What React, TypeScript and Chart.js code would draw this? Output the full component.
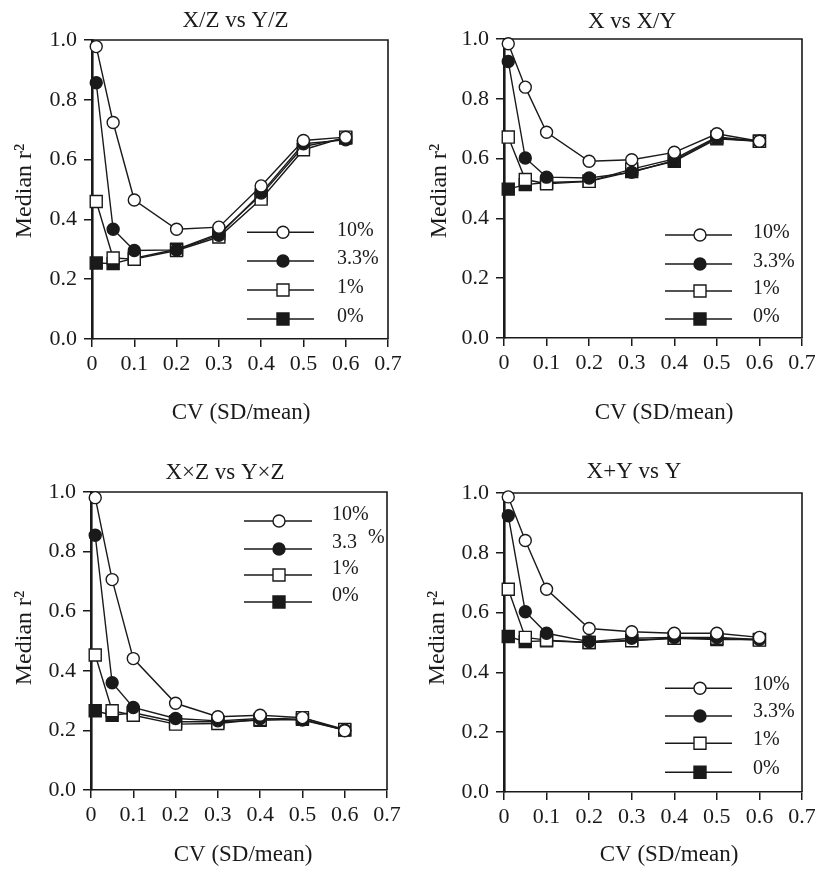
import React, { useEffect, useRef } from "react";
import { Chart, registerables } from "chart.js";

Chart.register(...registerables);

// ---------- data ----------
const cvValues = [0.01, 0.05, 0.1, 0.2, 0.3, 0.4, 0.5, 0.6];
const xTickValues = [0, 0.1, 0.2, 0.3, 0.4, 0.5, 0.6, 0.7];
const yTickValues = [0, 0.2, 0.4, 0.6, 0.8, 1.0];
const errorLabels = ["10%", "3.3%", "1%", "0%"];
const xAxisTitle = "CV (SD/mean)";
const yAxisTitle = "Median r\u00B2";

const titleXZvsYZ = "X/Z vs Y/Z";
const titleXvsXY = "X vs X/Y";
const titleXZprodYZprod = "X\u00D7Z vs Y\u00D7Z";
const titleXplusYvsY = "X+Y vs Y";

// X/Z vs Y/Z
const ratio10 = [0.978, 0.724, 0.465, 0.367, 0.374, 0.512, 0.664, 0.675];
const ratio33 = [0.857, 0.367, 0.296, 0.298, 0.347, 0.488, 0.653, 0.666];
const ratio1 = [0.46, 0.271, 0.267, 0.296, 0.341, 0.468, 0.633, 0.675];
const ratio0 = [0.254, 0.252, 0.27, 0.3, 0.352, 0.482, 0.644, 0.672];

// X vs X/Y
const shared10 = [0.984, 0.839, 0.688, 0.591, 0.596, 0.621, 0.683, 0.658];
const shared33 = [0.925, 0.602, 0.538, 0.535, 0.554, 0.594, 0.669, 0.658];
const shared1 = [0.672, 0.53, 0.516, 0.524, 0.565, 0.599, 0.672, 0.658];
const shared0 = [0.498, 0.513, 0.52, 0.524, 0.557, 0.591, 0.666, 0.658];

// X×Z vs Y×Z
const product10 = [0.981, 0.706, 0.441, 0.291, 0.246, 0.251, 0.243, 0.199];
const product33 = [0.855, 0.36, 0.277, 0.24, 0.232, 0.24, 0.235, 0.201];
const product1 = [0.453, 0.266, 0.251, 0.221, 0.223, 0.237, 0.243, 0.203];
const product0 = [0.266, 0.251, 0.259, 0.229, 0.229, 0.234, 0.237, 0.201];

// X+Y vs Y
const sum10 = [0.987, 0.841, 0.678, 0.547, 0.536, 0.531, 0.531, 0.517];
const sum33 = [0.924, 0.603, 0.531, 0.503, 0.514, 0.517, 0.517, 0.51];
const sum1 = [0.678, 0.517, 0.508, 0.5, 0.506, 0.514, 0.514, 0.508];
const sum0 = [0.52, 0.503, 0.506, 0.5, 0.508, 0.514, 0.51, 0.51];

// ---------- styles / layout ----------
const FONT = '"Liberation Serif", "Times New Roman", serif';
const INK = "#1a1a1a";

const markerStyles = [
  { shape: "circle", filled: false },
  { shape: "circle", filled: true },
  { shape: "rect", filled: false },
  { shape: "rect", filled: true },
];

type Layout = {
  left: number; top: number; w: number; h: number;
  area: { l: number; t: number; r: number; b: number };
  title: [number, number];
  xTitle: [number, number];
  yTitle: [number, number];
  legend: { x1: number; x2: number; mx: number; tx: number; rows: number[]; dy: number; splitPercent?: boolean };
};

const layouts: Layout[] = [
  {
    left: 0, top: 0, w: 407, h: 437,
    area: { l: 92, t: 40, r: 388, b: 339 },
    title: [235.5, 21], xTitle: [241, 413], yTitle: [25, 191],
    legend: { x1: 247, x2: 314, mx: 283, tx: 337, rows: [232.3, 261, 290, 319], dy: -2 },
  },
  {
    left: 407, top: 0, w: 430, h: 437,
    area: { l: 97, t: 39, r: 395, b: 338 },
    title: [225, 21.5], xTitle: [257, 413], yTitle: [33, 191],
    legend: { x1: 258, x2: 325, mx: 293, tx: 346, rows: [235, 264, 291, 319], dy: -2 },
  },
  {
    left: 0, top: 445, w: 407, h: 430,
    area: { l: 91, t: 47, r: 387, b: 345 },
    title: [225, 27.5], xTitle: [243, 410], yTitle: [25, 193],
    legend: { x1: 244, x2: 312, mx: 279, tx: 332, rows: [76, 104, 130, 157], dy: -6, splitPercent: true },
  },
  {
    left: 407, top: 445, w: 430, h: 430,
    area: { l: 97, t: 48, r: 395, b: 347 },
    title: [227, 27], xTitle: [262, 410], yTitle: [31, 193],
    legend: { x1: 258, x2: 325, mx: 293, tx: 346, rows: [243.3, 271, 298.3, 327.3], dy: -4 },
  },
];

const panels = [
  { title: titleXZvsYZ, series: [ratio10, ratio33, ratio1, ratio0] },
  { title: titleXvsXY, series: [shared10, shared33, shared1, shared0] },
  { title: titleXZprodYZprod, series: [product10, product33, product1, product0] },
  { title: titleXplusYvsY, series: [sum10, sum33, sum1, sum0] },
];

function drawMarker(ctx: CanvasRenderingContext2D, shape: string, filled: boolean, x: number, y: number) {
  ctx.save();
  ctx.beginPath();
  if (shape === "circle") ctx.arc(x, y, 6, 0, Math.PI * 2);
  else ctx.rect(x - 6, y - 6, 12, 12);
  ctx.fillStyle = filled ? INK : "#ffffff";
  ctx.fill();
  ctx.lineWidth = 1.4;
  ctx.strokeStyle = INK;
  ctx.stroke();
  ctx.restore();
}

function Panel({ index }: { index: number }) {
  const ref = useRef<HTMLCanvasElement>(null);
  const L = layouts[index];
  const P = panels[index];

  useEffect(() => {
    const canvas = ref.current!;
    const { area } = L;

    const framePlugin = {
      id: "frameText",
      beforeDatasetsDraw(chart: any) {
        const ctx = chart.ctx as CanvasRenderingContext2D;
        const ca = chart.chartArea;
        ctx.save();
        ctx.strokeStyle = INK;
        ctx.lineWidth = 1.6;
        ctx.beginPath();
        ctx.moveTo(ca.left, ca.top);
        ctx.lineTo(ca.right, ca.top);
        ctx.lineTo(ca.right, ca.bottom);
        ctx.stroke();
        ctx.restore();
      },
      afterDraw(chart: any) {
        const ctx = chart.ctx as CanvasRenderingContext2D;
        ctx.save();
        ctx.fillStyle = INK;
        ctx.textBaseline = "middle";
        ctx.textAlign = "center";
        ctx.font = `23px ${FONT}`;
        ctx.fillText(P.title, L.title[0], L.title[1]);
        ctx.fillText(xAxisTitle, L.xTitle[0], L.xTitle[1]);
        ctx.save();
        ctx.translate(L.yTitle[0], L.yTitle[1]);
        ctx.rotate(-Math.PI / 2);
        ctx.font = `24px ${FONT}`;
        ctx.fillText(yAxisTitle, 0, 0);
        ctx.restore();

        // legend
        const lg = L.legend;
        ctx.font = `20px ${FONT}`;
        ctx.textAlign = "left";
        errorLabels.forEach((lab, i) => {
          const y = lg.rows[i];
          ctx.strokeStyle = INK;
          ctx.lineWidth = 1.5;
          ctx.beginPath();
          ctx.moveTo(lg.x1, y);
          ctx.lineTo(lg.x2, y);
          ctx.stroke();
          drawMarker(ctx, markerStyles[i].shape, markerStyles[i].filled, lg.mx, y);
          ctx.fillStyle = INK;
          if (lg.splitPercent && lab === "3.3%") {
            ctx.fillText("3.3", lg.tx, y + lg.dy);
            ctx.fillText("%", lg.tx + 36, y + lg.dy - 5);
          } else {
            ctx.fillText(lab, lg.tx, y + lg.dy);
          }
        });
        ctx.restore();
      },
    };

    const datasets = P.series.map((vals, i) => {
      const st = markerStyles[i];
      return {
        label: errorLabels[i],
        data: cvValues.map((x, k) => ({ x, y: vals[k] })),
        borderColor: INK,
        borderWidth: 1.4,
        pointStyle: st.shape,
        pointRadius: st.shape === "rect" ? 8.5 : 6,
        pointBackgroundColor: st.filled ? INK : "#ffffff",
        pointBorderColor: INK,
        pointBorderWidth: 1.4,
        pointHoverRadius: st.shape === "rect" ? 8.5 : 6,
        fill: false,
        tension: 0,
        clip: false,
      };
    });

    const chart = new Chart(canvas, {
      type: "line",
      data: { datasets },
      options: {
        responsive: false,
        animation: false,
        devicePixelRatio: 1,
        events: [],
        layout: { padding: { left: 0, top: area.t, right: L.w - area.r, bottom: 0 } },
        plugins: { legend: { display: false }, tooltip: { enabled: false }, title: { display: false } },
        scales: {
          x: {
            type: "linear",
            position: "bottom",
            min: 0,
            max: 0.7,
            afterBuildTicks: (s: any) => { s.ticks = xTickValues.map((v) => ({ value: v })); },
            afterFit: (s: any) => { s.height = L.h - area.b; },
            ticks: {
              autoSkip: false,
              maxRotation: 0,
              padding: 4,
              color: INK,
              font: { family: FONT, size: 22 },
              callback: (v: any) => (Number(v) === 0 ? "0" : Number(v).toFixed(1)),
            },
            grid: { drawOnChartArea: false, drawTicks: true, tickLength: 8, color: INK, lineWidth: 1.5 },
            border: { display: true, color: INK, width: 1.6 },
          },
          y: {
            type: "linear",
            position: "left",
            min: 0,
            max: 1,
            afterBuildTicks: (s: any) => { s.ticks = yTickValues.map((v) => ({ value: v })); },
            afterFit: (s: any) => { s.width = area.l; },
            ticks: {
              padding: 7,
              color: INK,
              font: { family: FONT, size: 22 },
              callback: (v: any) => Number(v).toFixed(1),
            },
            grid: { drawOnChartArea: false, drawTicks: true, tickLength: 8, color: INK, lineWidth: 1.5 },
            border: { display: true, color: INK, width: 2.6 },
          },
        },
      },
      plugins: [framePlugin],
    } as any);

    return () => chart.destroy();
  }, [index]);

  return (
    <canvas
      ref={ref}
      width={L.w}
      height={L.h}
      style={{ position: "absolute", left: L.left, top: L.top, width: L.w, height: L.h, display: "block" }}
    />
  );
}

export default function App() {
  return (
    <div
      style={{
        position: "absolute",
        left: 0,
        top: 0,
        width: 815,
        height: 875,
        overflow: "hidden",
        background: "#ffffff",
      }}
    >
      {panels.map((_, i) => (
        <Panel key={i} index={i} />
      ))}
    </div>
  );
}
